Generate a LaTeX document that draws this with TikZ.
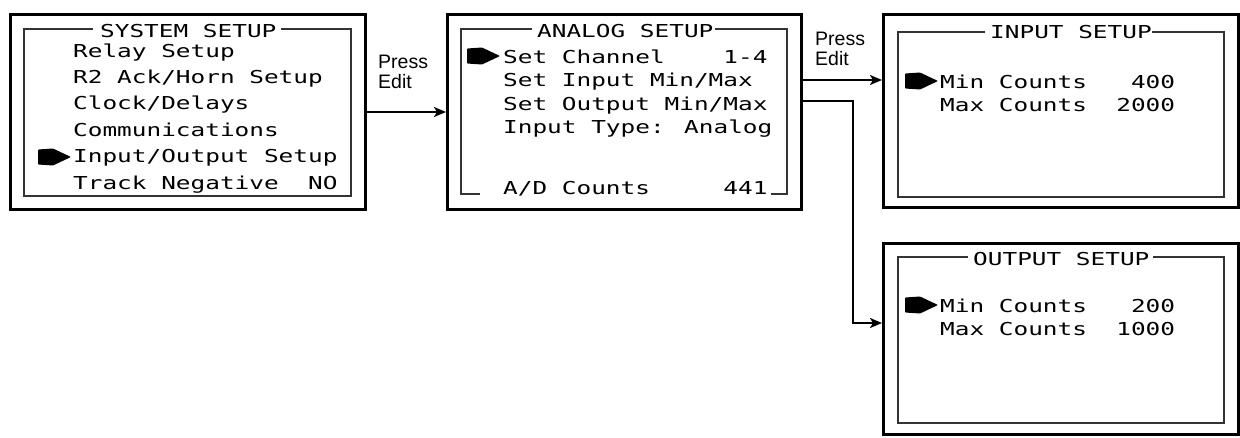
\documentclass[tikz,border=0pt]{standalone}
\usepackage{fontspec}
\setmainfont{Liberation Sans}
\newfontfamily\lcd{DejaVu Sans Mono}[FakeStretch=1.37]
\usetikzlibrary{arrows.meta}
\begin{document}
\begin{tikzpicture}[x=1pt,y=-1pt,
  outerbox/.style={draw=black, line width=3pt, inner sep=0pt},
  innerln/.style={draw=black!80, line width=1.4pt},
  lcdtext/.style={anchor=base west, inner sep=0pt, font=\lcd\fontsize{17.8}{20}\selectfont},
  conn/.style={line width=2pt, -{Stealth[length=12pt,width=10pt,inset=3pt]}},
  lbl/.style={anchor=north west, inner sep=0pt, align=left, font=\fontsize{19.5}{20}\selectfont},
  lcdmark/.pic={\fill[rounded corners=0.8pt] (0,-7.5)--(15,-8.5)--(33,0)--(15,8.5)--(0,7.5)--cycle;}
]
\useasboundingbox (0,0) rectangle (1240,437);

% outer boxes
\node[outerbox, minimum width=355pt, minimum height=195pt] (sys) at (188,112) {};
\node[outerbox, minimum width=354pt, minimum height=195pt] (ana) at (624.5,112) {};
\node[outerbox, minimum width=354.5pt, minimum height=193pt] (inp) at (1060.75,111) {};
\node[outerbox, minimum width=354.5pt, minimum height=191pt] (outp) at (1060.75,339) {};

% inner frames
\draw[innerln] (93,29) -- (24,29) -- (24,196) -- (351,196) -- (351,29) -- (281,29);
\draw[innerln] (532,29) -- (461,29) -- (461,194) -- (480,194);
\draw[innerln] (771,194) -- (787,194) -- (787,29) -- (715,29);
\draw[innerln] (985,32) -- (898,32) -- (898,197) -- (1224,197) -- (1224,32) -- (1152,32);
\draw[innerln] (968,257) -- (898,257) -- (898,423) -- (1224,423) -- (1224,257) -- (1153,257);

% SYSTEM SETUP
\node[lcdtext] (t1) at (100,37) {SYSTEM SETUP};
\node[lcdtext] (s1) at (73,57) {Relay Setup};
\node[lcdtext] (s2) at (73,83.4) {R2 Ack/Horn Setup};
\node[lcdtext] (s3) at (73,109.8) {Clock/Delays};
\node[lcdtext] (s4) at (73,136.2) {Communications};
\node[lcdtext] (s5) at (73,162.6) {Input/Output Setup};
\node[lcdtext] (s6) at (73,189) {Track Negative\ \ NO};
\pic at (38,157) {lcdmark};

% ANALOG SETUP
\node[lcdtext] (t2) at (537,37) {ANALOG SETUP};
\node[lcdtext] (a1) at (503,63) {Set Channel\ \ \ \ 1-4};
\node[lcdtext] (a2) at (503,86.5) {Set Input Min/Max};
\node[lcdtext] (a3) at (503,110) {Set Output Min/Max};
\node[lcdtext] (a4) at (503,133.5) {Input Type: Analog};
\node[lcdtext] (a5) at (503,194) {A/D Counts\ \ \ \ \ 441};
\pic at (467,56) {lcdmark};

% INPUT SETUP
\node[lcdtext] (t3) at (990,38) {INPUT SETUP};
\node[lcdtext] (i1) at (940,88) {Min Counts\ \ \ 400};
\node[lcdtext] (i2) at (940,111.5) {Max Counts\ \ 2000};
\pic at (905,81) {lcdmark};

% OUTPUT SETUP
\node[lcdtext] (t4) at (973,265) {OUTPUT SETUP};
\node[lcdtext] (o1) at (940,312) {Min Counts\ \ \ 200};
\node[lcdtext] (o2) at (940,335.5) {Max Counts\ \ 1000};
\pic at (905,305) {lcdmark};

% labels
\node[lbl] (pe1) at (378,55) {Press\\Edit};
\node[lbl] (pe2) at (815,32) {Press\\Edit};

% connectors
\coordinate (j2) at (840,80);
\coordinate (j3) at (853,101);
\coordinate (j4) at (853,323);
\draw[conn] (sys.east) -- (ana.west);
\draw[conn] (ana.east |- j2) -- (inp.west |- j2);
\draw[conn] (ana.east |- j3) -- (j3) -- (j4) -- (outp.west |- j4);
\end{tikzpicture}
\end{document}
